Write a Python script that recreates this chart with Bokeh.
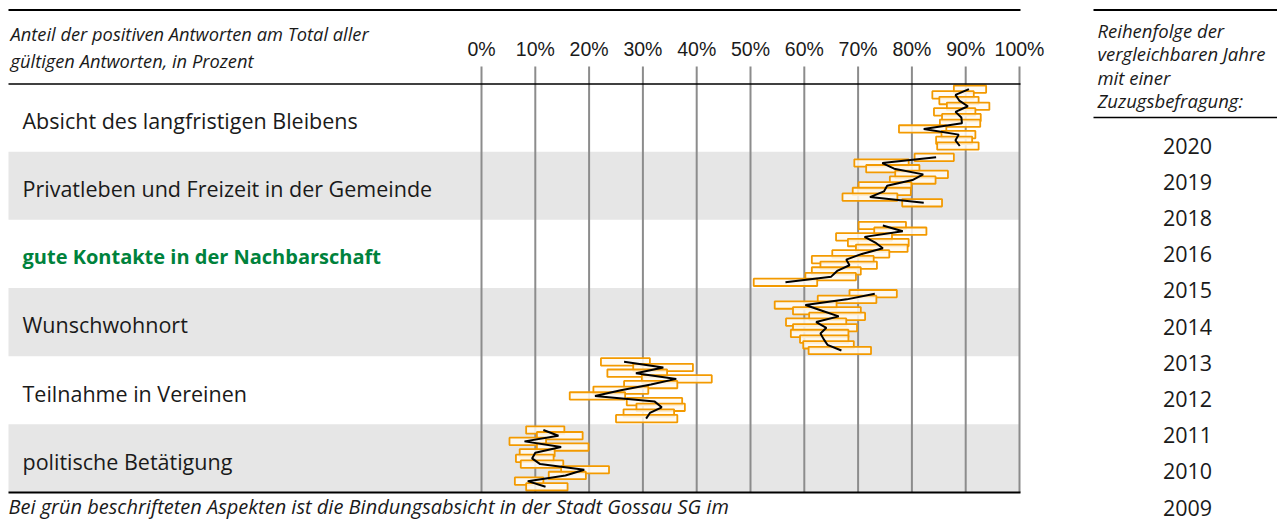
from bokeh.plotting import figure
from bokeh.models import Range1d, ColumnDataSource
from bokeh.core.properties import value
from bokeh.embed import file_html
from bokeh.resources import INLINE

# ---------------- data ----------------
categories = [
    "Absicht des langfristigen Bleibens",
    "Privatleben und Freizeit in der Gemeinde",
    "gute Kontakte in der Nachbarschaft",
    "Wunschwohnort",
    "Teilnahme in Vereinen",
    "politische Betätigung",
]
green_categories = ["gute Kontakte in der Nachbarschaft"]

years = ["2020", "2019", "2018", "2016", "2015", "2014", "2013", "2012", "2011", "2010", "2009"]

ticks = [0, 10, 20, 30, 40, 50, 60, 70, 80, 90, 100]
tick_labels = ["0%", "10%", "20%", "30%", "40%", "50%", "60%", "70%", "80%", "90%", "100%"]

# value (line) and confidence box bounds, per year from 2020 downwards
absicht_val = [90.6, 88.1, 88.8, 90.4, 88.1, 89.2, 89.3, 82.2, 88.7, 88.1, 88.9]
absicht_lo = [87.8, 83.8, 85.1, 86.5, 84.1, 85.6, 85.2, 77.6, 85.5, 84.5, 84.7]
absicht_hi = [93.8, 91.5, 92.4, 94.4, 91.8, 92.8, 92.7, 86.4, 91.8, 91.2, 92.4]

privat_val = [84.5, 74.5, 76.7, 82.1, 80.1, 75.4, 74.8, 72.2, 82.2]
privat_lo = [80.5, 69.3, 71.5, 76.9, 75.9, 70.1, 69.0, 67.1, 78.2]
privat_hi = [87.8, 79.4, 81.4, 86.7, 84.4, 79.9, 79.8, 77.3, 85.6]

kontakte_val = [74.6, 78.3, 71.2, 73.2, 74.6, 70.7, 67.8, 68.4, 66.1, 65.0, 56.5]
kontakte_lo = [70.1, 73.0, 65.9, 68.1, 69.6, 65.2, 61.4, 63.0, 61.4, 60.2, 50.6]
kontakte_hi = [78.9, 82.7, 76.3, 79.4, 79.2, 75.8, 72.9, 73.5, 70.5, 69.6, 62.4]

wunsch_val = [73.1, 67.9, 60.2, 63.3, 66.4, 62.2, 64.1, 63.0, 63.6, 64.3, 66.9]
wunsch_lo = [68.4, 62.5, 54.5, 57.9, 60.9, 56.6, 57.9, 57.5, 59.2, 59.8, 60.8]
wunsch_hi = [77.2, 73.4, 66.0, 70.5, 71.3, 67.8, 69.8, 68.2, 68.2, 69.2, 72.4]

vereine_val = [26.5, 33.8, 28.7, 36.2, 31.5, 25.9, 21.1, 32.2, 33.5, 31.3, 30.6]
vereine_lo = [22.2, 28.2, 23.4, 29.8, 26.5, 20.8, 16.4, 27.0, 28.8, 26.4, 25.0]
vereine_hi = [31.3, 39.3, 34.5, 42.8, 36.4, 31.0, 26.7, 37.3, 37.8, 35.8, 36.4]

politik_val = [11.5, 14.3, 8.0, 14.8, 10.0, 9.4, 10.9, 19.1, 15.6, 8.6, 11.9]
politik_lo = [8.3, 10.3, 5.2, 10.3, 7.1, 6.4, 7.3, 14.8, 12.5, 6.2, 8.3]
politik_hi = [15.4, 18.8, 12.0, 19.9, 13.6, 13.4, 15.2, 23.7, 19.4, 11.5, 16.0]

series = [
    (absicht_val, absicht_lo, absicht_hi),
    (privat_val, privat_lo, privat_hi),
    (kontakte_val, kontakte_lo, kontakte_hi),
    (wunsch_val, wunsch_lo, wunsch_hi),
    (vereine_val, vereine_lo, vereine_hi),
    (politik_val, politik_lo, politik_hi),
]

# ---------------- layout helpers ----------------
W, H = 1277, 520
S_X = 5.38            # px per percent
X0 = -481 / S_X       # left edge of the canvas in percent units
SLOTS = 12            # row slots per band
S_Y = 409 / (SLOTS * len(categories))


def px(xp):
    return X0 + xp / S_X


def py(yp):
    return (yp - 83) / S_Y


p = figure(
    width=W, height=H, output_backend="svg", toolbar_location=None,
    x_range=Range1d(X0, X0 + W / S_X),
    y_range=Range1d(py(H), py(0)),
    min_border=0, x_axis_location=None, y_axis_location=None,
    outline_line_color=None, background_fill_color="white",
    border_fill_color="white",
)
p.grid.visible = False

ORANGE = "#f39a00"
GRAY_BAND = "#e6e6e6"
GRID = "#8c8c8c"
FONT = value("Open Sans")
INK = "#1a1a1a"

# band backgrounds
band_top = [k * SLOTS for k in range(len(categories))]
gray_tops = [t for k, t in enumerate(band_top) if k % 2 == 1]
p.quad(left=px(8), right=100, top=gray_tops, bottom=[t + SLOTS for t in gray_tops],
       fill_color=GRAY_BAND, line_color=None)

# grid lines
p.segment(x0=ticks, x1=ticks, y0=py(66), y1=SLOTS * len(categories),
          line_color=GRID, line_width=2)

# boxes and lines
for k, (vals, lo, hi) in enumerate(series):
    ys = [band_top[k] + i + 1 for i in range(len(vals))]
    src = ColumnDataSource(dict(lo=lo, hi=hi, top=[y - 0.65 for y in ys],
                                bottom=[y + 0.65 for y in ys]))
    p.quad(left="lo", right="hi", top="top", bottom="bottom", source=src,
           fill_color="#fffaf2", fill_alpha=0.85, line_color=ORANGE, line_width=1.8)
    p.line(x=vals, y=ys, line_color="black", line_width=2)

# rules
p.segment(x0=px(8), x1=px(1020), y0=[py(9.5), py(83.5), py(492)],
          y1=[py(9.5), py(83.5), py(492)], line_color="black",
          line_width=[2, 1.6, 2])
p.segment(x0=px(1093), x1=px(1285), y0=[py(9.5), py(117)], y1=[py(9.5), py(117)],
          line_color="black", line_width=[2, 1.6])

# tick labels
p.text(x=ticks, y=py(48), text=tick_labels, text_align="center",
       text_baseline="middle", text_font=value("Liberation Sans"),
       text_font_size="19.5px", text_color=INK)

# header text
p.text(x=px(10), y=[py(33), py(60)],
       text=["Anteil der positiven Antworten am Total aller",
             "gültigen  Antworten, in Prozent"],
       text_baseline="middle", text_font=FONT, text_font_style="italic",
       text_font_size="18.3px", text_color=INK)

# category labels
for k, c in enumerate(categories):
    green = c in green_categories
    p.text(x=px(22), y=band_top[k] + SLOTS / 2 + 0.5, text=[c],
           text_baseline="middle", text_font=FONT,
           text_font_style="bold" if green else "normal",
           text_font_size="20px" if green else "21.5px",
           text_color="#00823c" if green else INK)

# right panel
p.text(x=px(1097), y=[py(30), py(53), py(77), py(100)],
       text=["Reihenfolge der", "vergleichbaren  Jahre", "mit  einer", "Zuzugsbefragung:"],
       text_baseline="middle", text_font=FONT, text_font_style="italic",
       text_font_size="18.5px", text_color=INK)
p.text(x=px(1187), y=[py(145 + 36.2 * i) for i in range(len(years))], text=years,
       text_align="center", text_baseline="middle", text_font=FONT,
       text_font_size="21.5px", text_color=INK)

# footnote
p.text(x=px(8), y=py(506),
       text=["Bei grün beschrifteten Aspekten ist die Bindungsabsicht in der Stadt Gossau SG im"],
       text_baseline="middle", text_font=FONT, text_font_style="italic",
       text_font_size="20px", text_color=INK)

open("out.html", "w").write(file_html(p, INLINE))
